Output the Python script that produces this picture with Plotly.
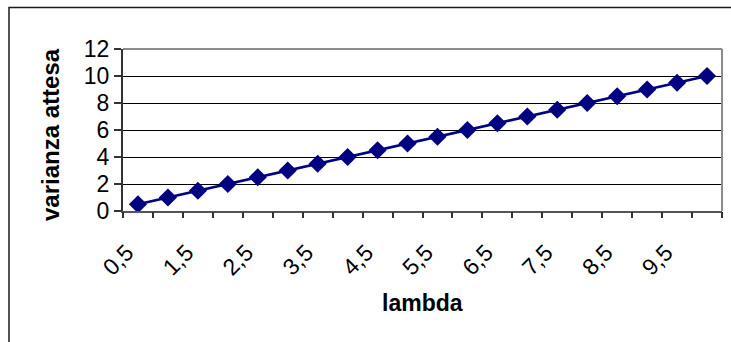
import plotly.graph_objects as go

# lambda categories and expected variance
lambda_labels = ["0,5", "1", "1,5", "2", "2,5", "3", "3,5", "4", "4,5", "5",
                 "5,5", "6", "6,5", "7", "7,5", "8", "8,5", "9", "9,5", "10"]
varianza_attesa = [0.5, 1, 1.5, 2, 2.5, 3, 3.5, 4, 4.5, 5,
                   5.5, 6, 6.5, 7, 7.5, 8, 8.5, 9, 9.5, 10]
shown_labels = lambda_labels[::2]
y_ticks = [0, 2, 4, 6, 8, 10, 12]

W, H = 731, 342
L, R, T, B = 123, 9, 49, 131
pw, ph = W - L - R, H - T - B

def px_to_paper_x(px):
    return (px - L) / pw

def px_to_paper_y(py):
    return (H - B - py) / ph

FONT = "Liberation Sans"
n = len(lambda_labels)

fig = go.Figure()
fig.add_trace(go.Scatter(
    x=lambda_labels, y=varianza_attesa,
    mode="lines+markers",
    line=dict(color="#000080", width=2.5),
    marker=dict(symbol="diamond", size=14, color="#000080"),
    showlegend=False,
))
# invisible trace to activate the boundary tick axis
fig.add_trace(go.Scatter(x=[-0.5], y=[0], xaxis="x2", mode="markers",
                         marker=dict(opacity=0), showlegend=False, hoverinfo="skip"))

fig.update_layout(
    width=W, height=H,
    margin=dict(l=L, r=R, t=T, b=B),
    paper_bgcolor="white", plot_bgcolor="white",
    font=dict(family=FONT, size=21, color="black"),
    xaxis=dict(
        type="category", tickmode="array", tickvals=shown_labels, ticktext=shown_labels,
        range=[-0.5, n - 0.5], tickangle=-45, ticks="", showgrid=False,
        showline=True, linecolor="#555555", linewidth=2,
        tickfont=dict(size=23, family=FONT), zeroline=False,
        ticklabelstandoff=17, ticklabelshift=-11,
    ),
    xaxis2=dict(
        overlaying="x", side="bottom", range=[-0.5, n - 0.5],
        tickmode="array", tickvals=[i - 0.5 for i in range(n + 1)],
        ticks="outside", ticklen=6, tickwidth=1.5, tickcolor="#333333",
        showticklabels=False, showgrid=False, zeroline=False, showline=False,
    ),
    yaxis=dict(
        range=[0, 12], tickmode="array", tickvals=y_ticks,
        ticks="outside", ticklen=7, tickwidth=1.5, tickcolor="#333333",
        showgrid=True, gridcolor="black", gridwidth=1,
        showline=True, linecolor="#333333", linewidth=2, zeroline=False,
        tickfont=dict(size=23, family=FONT), ticksuffix="\u00a0",
    ),
    shapes=[
        # plot area frame (top and right)
        dict(type="line", xref="paper", yref="paper", x0=0, x1=1, y0=1, y1=1,
             line=dict(color="#8c8c8c", width=2)),
        dict(type="line", xref="paper", yref="paper", x0=1, x1=1, y0=0, y1=1,
             line=dict(color="#8c8c8c", width=2)),
        # chart border
        dict(type="rect", xref="paper", yref="paper",
             x0=px_to_paper_x(9), x1=px_to_paper_x(745),
             y0=px_to_paper_y(360), y1=px_to_paper_y(7.5),
             line=dict(color="#1a1a1a", width=1.5)),
    ],
    annotations=[
        dict(text="<b>lambda</b>", xref="paper", yref="paper",
             x=0.5, y=px_to_paper_y(303), showarrow=False,
             xanchor="center", yanchor="middle", font=dict(size=23, family=FONT)),
        dict(text="<b>varianza attesa</b>", xref="paper", yref="paper",
             x=px_to_paper_x(50), y=px_to_paper_y(135), showarrow=False, textangle=-90,
             xanchor="center", yanchor="middle", font=dict(size=24, family=FONT)),
    ],
)

fig.write_html("out.html")
